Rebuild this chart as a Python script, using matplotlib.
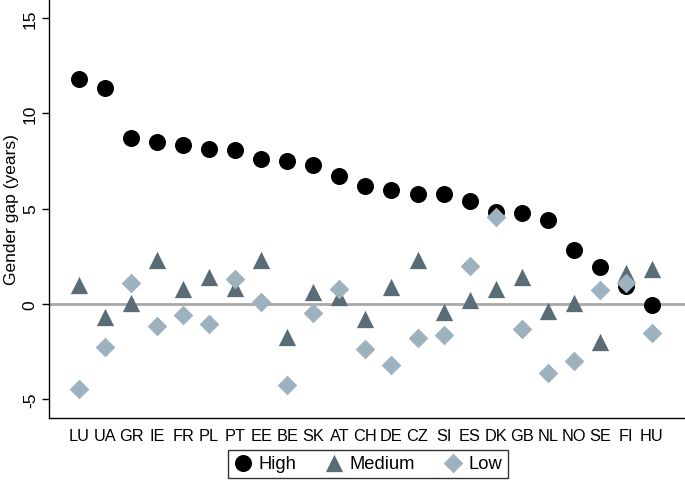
import numpy as np
import matplotlib
matplotlib.use("Agg")
import matplotlib.pyplot as plt

plt.rcParams['font.family'] = ['Liberation Sans', 'DejaVu Sans']

# Data
countries = ['LU', 'UA', 'GR', 'IE', 'FR', 'PL', 'PT', 'EE', 'BE', 'SK', 'AT', 'CH',
             'DE', 'CZ', 'SI', 'ES', 'DK', 'GB', 'NL', 'NO', 'SE', 'FI', 'HU']
high = [11.8, 11.35, 8.69, 8.51, 8.32, 8.11, 8.06, 7.59, 7.5, 7.27, 6.71, 6.17,
        5.98, 5.77, 5.77, 5.4, 4.81, 4.76, 4.39, 2.8, 1.92, 0.93, -0.07]
medium = [1.0, -0.67, 0.06, 2.32, 0.77, 1.42, 0.82, 2.32, -1.77, 0.61, 0.33, -0.8,
          0.9, 2.32, -0.42, 0.2, 0.76, 1.38, -0.4, 0.06, -2.03, 1.6, 1.82]
low = [-4.49, -2.29, 1.1, -1.19, -0.59, -1.08, 1.31, 0.09, -4.28, -0.49, 0.75, -2.4,
       -3.2, -1.82, -1.63, 1.98, 4.55, -1.31, -3.63, -3.0, 0.73, 1.1, -1.54]

x = np.arange(1, len(countries) + 1)

fig = plt.figure(figsize=(6.85, 4.85), dpi=100)
ax = fig.add_axes([0.0715, 0.136, 0.9285, 0.864])

# Zero reference line
ax.axhline(0, color='#a8a8a8', linewidth=2, zorder=1)

# Points
ax.scatter(x, high, marker='o', s=150, color='black', linewidths=0, label='High', zorder=2)
ax.scatter(x, medium, marker='^', s=155, color='#5a6c76', linewidths=0, label='Medium', zorder=3)
ax.scatter(x, low, marker='D', s=100, color='#9db2be', linewidths=0, label='Low', zorder=4)

ax.set_xlim(-0.15, 24.27)
ax.set_ylim(-6, 16)

ax.set_xticks(x)
ax.set_xticklabels(countries, fontsize=11.8)
ax.tick_params(axis='x', length=0, pad=7)
ax.set_yticks([-5, 0, 5, 10, 15])
ax.set_yticklabels(['-5', '0', '5', '10', '15'], rotation=90, va='center', fontsize=12.5)
ax.tick_params(axis='y', length=5, width=1, pad=3)

ax.set_ylabel('Gender gap (years)', fontsize=12.5, labelpad=3)

ax.spines['top'].set_visible(False)
ax.spines['right'].set_visible(False)
for side in ['left', 'bottom']:
    ax.spines[side].set_linewidth(1)
    ax.spines[side].set_color('black')

# Legend
leg = fig.legend(loc='lower center', bbox_to_anchor=(0.537, -0.006), ncol=3, fontsize=13.2,
                 frameon=True, fancybox=False, edgecolor='black', borderpad=0.3,
                 handletextpad=0.3, columnspacing=1.5, handlelength=1.1)
leg.get_frame().set_linewidth(1)

fig.savefig('out.png', dpi=100)
